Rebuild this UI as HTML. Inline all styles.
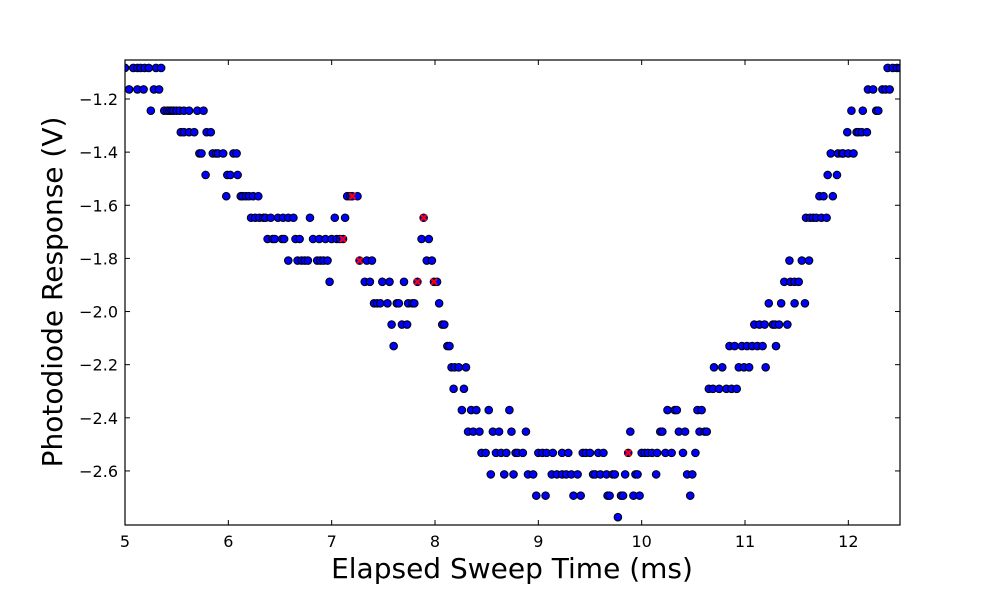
<!DOCTYPE html>
<html><head><meta charset="utf-8"><style>
html,body{margin:0;padding:0;background:#fff;}
svg{display:block;font-family:"DejaVu Sans","Liberation Sans",sans-serif;}
</style></head><body>
<svg id="chart" width="1000" height="600" viewBox="0 0 1000 600" xmlns="http://www.w3.org/2000/svg">
<rect x="0" y="0" width="1000" height="600" fill="#fff"/>
<g id="points"></g>
<g id="axes"></g>
<text x="512" y="578" font-size="28" text-anchor="middle">Elapsed Sweep Time (ms)</text>
<text transform="translate(62,292) rotate(-90)" font-size="28" text-anchor="middle">Photodiode Response (V)</text>
</svg>
<script>
const xTicks = [5, 6, 7, 8, 9, 10, 11, 12];
const yTicks = [-1.2, -1.4, -1.6, -1.8, -2.0, -2.2, -2.4, -2.6];
const yTickLabels = ["\u22121.2","\u22121.4","\u22121.6","\u22121.8","\u22122.0","\u22122.2","\u22122.4","\u22122.6"];
const voltageLevels = [-1.083,-1.164,-1.244,-1.325,-1.405,-1.486,-1.566,-1.647,-1.727,-1.808,-1.888,-1.969,-2.049,-2.130,-2.210,-2.291,-2.371,-2.452,-2.532,-2.613,-2.693,-2.774];
const sweepTimes = [
[5.00,5.08,5.12,5.15,5.19,5.23,5.30,5.35,12.38,12.43,12.47,12.50],
[5.04,5.12,5.18,5.28,5.33,12.19,12.24,12.33,12.36,12.40],
[5.25,5.38,5.41,5.43,5.45,5.47,5.50,5.53,5.57,5.62,5.70,5.76,12.03,12.14,12.27,12.29],
[5.54,5.57,5.62,5.67,5.79,5.83,11.99,12.08,12.10,12.13,12.18],
[5.72,5.74,5.85,5.88,5.90,5.95,6.05,6.08,11.83,11.90,11.94,11.95,12.00,12.05],
[5.78,5.99,6.02,6.09,11.80,11.89],
[5.98,6.12,6.14,6.17,6.20,6.24,6.29,7.15,7.18,7.20,7.25,11.72,11.76,11.85],
[6.22,6.26,6.30,6.34,6.36,6.41,6.48,6.53,6.58,6.63,6.79,7.03,7.13,7.89,11.59,11.63,11.66,11.69,11.74,11.79],
[6.38,6.43,6.45,6.52,6.54,6.65,6.69,6.82,6.88,6.94,7.00,7.05,7.08,7.11,7.87,7.94],
[6.58,6.67,6.71,6.74,6.77,6.86,6.89,6.92,6.96,7.27,7.34,7.39,7.92,7.97,11.43,11.55,11.62],
[6.98,7.32,7.37,7.49,7.56,7.70,7.83,7.99,8.02,11.38,11.44,11.48,11.52],
[7.41,7.44,7.47,7.54,7.63,7.65,7.74,7.78,7.80,8.04,11.23,11.35,11.48,11.58],
[7.58,7.68,7.73,8.07,8.09,11.09,11.14,11.19,11.27,11.29,11.33,11.41],
[7.60,8.12,8.14,10.85,10.90,10.97,11.02,11.07,11.12,11.17,11.30],
[8.16,8.19,8.23,8.30,10.70,10.78,10.94,10.99,11.04,11.20],
[8.18,8.28,10.65,10.69,10.75,10.82,10.87,10.92],
[8.26,8.35,8.40,8.52,8.72,10.25,10.32,10.34,10.54,10.58],
[8.32,8.37,8.43,8.56,8.62,8.74,8.88,9.89,10.18,10.20,10.36,10.42,10.56,10.61,10.63],
[8.45,8.49,8.59,8.64,8.69,8.78,8.80,8.85,9.00,9.04,9.08,9.14,9.23,9.29,9.43,9.46,9.50,9.58,9.63,9.87,10.00,10.03,10.06,10.10,10.15,10.23,10.29,10.40,10.52],
[8.54,8.67,8.76,8.90,8.95,9.13,9.18,9.23,9.27,9.32,9.38,9.53,9.55,9.60,9.66,9.72,9.74,9.84,9.94,9.96,10.14,10.44,10.49],
[8.98,9.07,9.34,9.41,9.67,9.69,9.80,9.82,9.92,9.98,10.47],
[9.77]
];
const flaggedTimes = [7.20, 7.89, 7.11, 7.27, 7.83, 7.99, 9.87];
const flaggedVolts = [-1.566, -1.647, -1.727, -1.808, -1.888, -1.888, -2.532];

const L=125,R=900,T=60,B=525, X0=5,X1=12.5, Y0=-1.0532,Y1=-2.8035;
const sx=v=>L+(v-X0)/(X1-X0)*(R-L);
const sy=v=>T+(v-Y0)/(Y1-Y0)*(B-T);
const NS="http://www.w3.org/2000/svg";
const pts=document.getElementById('points');
const ax=document.getElementById('axes');
function mk(tag,attrs,parent){const e=document.createElementNS(NS,tag);for(const k in attrs)e.setAttribute(k,attrs[k]);parent.appendChild(e);return e;}
const clip=mk('clipPath',{id:'plotclip'},pts);
mk('rect',{x:L,y:T,width:R-L,height:B-T},clip);
pts.setAttribute('clip-path','url(#plotclip)');
sweepTimes.forEach((row,i)=>{row.forEach(t=>{
  const c=mk('circle',{cx:sx(t),cy:sy(voltageLevels[i]),r:3.8,fill:'#0000ff',stroke:'#000','stroke-width':1},pts);
  
  
});});
flaggedTimes.forEach((t,i)=>{
  const x=sx(t),y=sy(flaggedVolts[i]),d=3;
  const g=mk('g',{},pts);
  
  
  mk('path',{d:`M${x-d},${y-d}L${x+d},${y+d}M${x-d},${y+d}L${x+d},${y-d}`,stroke:'#ff0000','stroke-width':2},g);
});
const frame=mk('rect',{x:L,y:T,width:R-L,height:B-T,fill:'none',stroke:'#000','stroke-width':1.2},ax);


xTicks.forEach(v=>{
  const x=sx(v);
  mk('line',{x1:x,y1:B,x2:x,y2:B-5,stroke:'#000'},ax);
  mk('line',{x1:x,y1:T,x2:x,y2:T+5,stroke:'#000'},ax);
  const t=mk('text',{x:x,y:B+22,'font-size':16,'text-anchor':'middle'},ax);
  t.textContent=v;
  
  
});
yTicks.forEach((v,i)=>{
  const y=sy(v);
  mk('line',{x1:L,y1:y,x2:L+5,y2:y,stroke:'#000'},ax);
  mk('line',{x1:R,y1:y,x2:R-5,y2:y,stroke:'#000'},ax);
  const t=mk('text',{x:L-7,y:y+6,'font-size':16,'text-anchor':'end'},ax);
  t.textContent=yTickLabels[i];
  
  
});
</script>
</body></html>
